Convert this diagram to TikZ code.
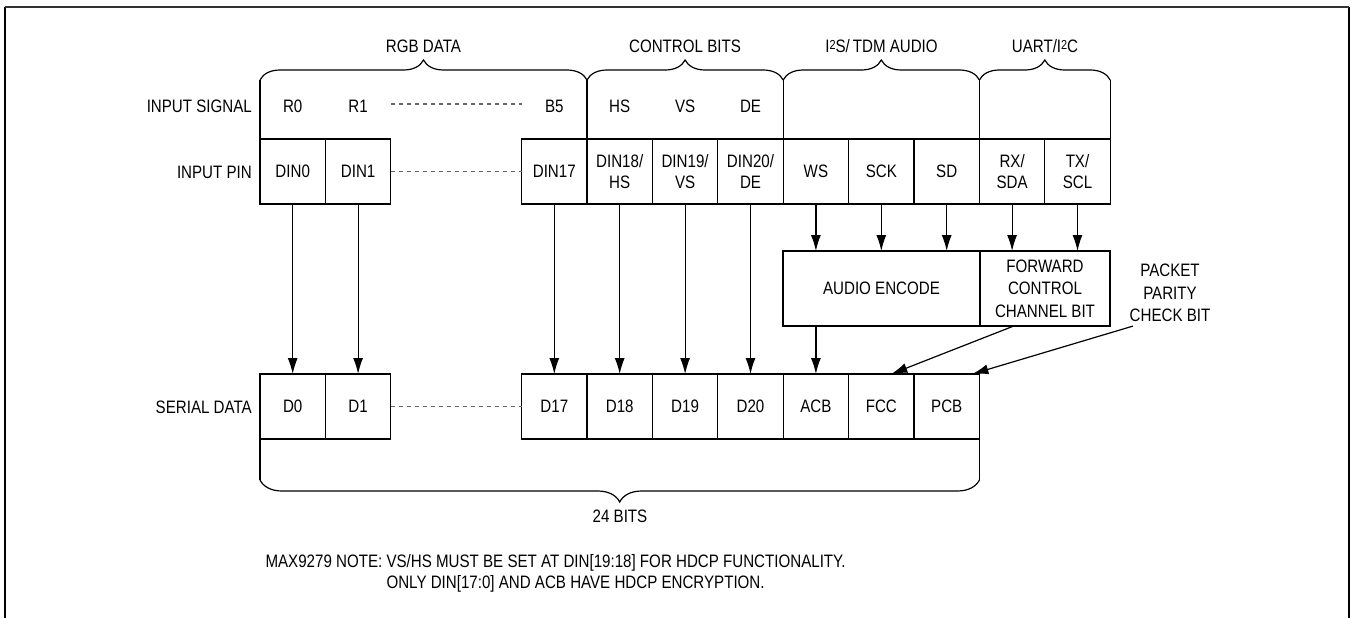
\documentclass[tikz,border=0pt]{standalone}
\usepackage{fontspec}
\setmainfont{Liberation Sans}[FakeStretch=0.84]
\usetikzlibrary{positioning,calc,arrows.meta,decorations.pathreplacing}

\tikzset{
  cell/.style={draw, line width=1.2pt, minimum width=65.4pt, minimum height=65pt,
    inner sep=0pt, outer sep=0pt, align=center},
  block/.style={draw, line width=1.2pt, minimum height=75pt, inner sep=0pt,
    outer sep=0pt, align=center, font=\fontsize{18}{22.5}\selectfont},
  rowname/.style={anchor=east, inner sep=0pt},
  flow/.style={-{Latex[length=16pt,width=10pt]}, line width=1.2pt},
  dots/.style={dash pattern=on 4.5pt off 3.5pt, black!60, line width=1.2pt},
  grpbrace/.style={decorate, decoration={brace, amplitude=#1}, line width=1.2pt},
  grpbrace/.default=20pt,
}
\newcommand{\sqtwo}{{\fontsize{13}{13}\selectfont\raisebox{2.5pt}{2}}}

\begin{document}
\begin{tikzpicture}[x=1pt, y=-1pt, font=\fontsize{18}{21}\selectfont]
    \useasboundingbox (0,0) rectangle (1352,618);
    % frame
    \draw [line width=2pt] (5,640) -- (5,7);
    \draw [line width=2pt] (1349,640) -- (1349,7);
    \draw [line width=1.5pt, black!80] (5,7) -- (1349,7);

    % row names
    \node [rowname] (insig) at (252,106) {INPUT SIGNAL};
    \node [rowname] (inpin) at (252,172) {INPUT PIN};
    \node [rowname] (serial) at (252,407) {SERIAL DATA};

    % input signals
    \foreach \i/\n/\t in {0/r0/R0, 1/r1/R1, 4/b5/B5, 5/hs/HS, 6/vs/VS, 7/de/DE}
        \node (\n) at ({292.7+65.4*\i},106) {\t};
    \draw [dots] ($(r1.east)+(19.5,-2)$) -- ($(b5.west)+(-19.5,-2)$);

    % input pins
    \foreach \i/\n/\t in {0/din0/DIN0, 1/din1/DIN1, 4/din17/DIN17, 5/din18/{DIN18/\\HS},
                          6/din19/{DIN19/\\VS}, 7/din20/{DIN20/\\DE}, 8/ws/WS, 9/sck/SCK,
                          10/sd/SD, 11/rx/{RX/\\SDA}, 12/tx/{TX/\\SCL}}
        \node [cell] (\n) at ({292.7+65.4*\i},171.5) {\t};
    \draw [dots] (din1.east) -- (din17.west);

    % group braces
    \draw [grpbrace] ($(din0.north west)+(0,-59)$) -- ($(din18.north west)+(0,-59)$);
    \draw [grpbrace] ($(din18.north west)+(0,-59)$) -- ($(ws.north west)+(0,-59)$);
    \draw [grpbrace] ($(ws.north west)+(0,-59)$) -- ($(rx.north west)+(0,-59)$);
    \draw [grpbrace] ($(rx.north west)+(0,-59)$) -- ($(tx.north east)+(0,-59)$);
    \foreach \n/\a in {din0/north west, din18/north west, ws/north west, rx/north west, tx/north east}
        \draw [line width=1.2pt] (\n.\a) -- ++(0,-59);
    \node (rgb) at (423.5,46) {RGB DATA};
    \node (ctrl) at (685,46) {CONTROL BITS};
    \node (i2s) at (881.5,46) {I\sqtwo S/\,TDM AUDIO};
    \node (uart) at (1045,46) {UART/I\sqtwo C};

    % encoders
    \node [block, minimum width=197pt] (audio) at (881.5,288.5) {AUDIO ENCODE};
    \node [block, minimum width=130pt] (fwd) at (1045,288.5) {FORWARD\\CONTROL\\CHANNEL BIT};
    \node [align=center, font=\fontsize{18}{22.5}\selectfont, inner sep=2pt] (pkt) at (1170,293)
        {PACKET\\PARITY\\CHECK BIT};

    % serial data
    \foreach \i/\n/\t in {0/d0/D0, 1/d1/D1, 4/d17/D17, 5/d18/D18, 6/d19/D19, 7/d20/D20,
                          8/acb/ACB, 9/fcc/FCC, 10/pcb/PCB}
        \node [cell] (\n) at ({292.7+65.4*\i},406.5) {\t};
    \draw [dots] (d1.east) -- (d17.west);

    % arrows
    \foreach \a/\b in {din0/d0, din1/d1, din17/d17, din18/d18, din19/d19, din20/d20}
        \draw [flow] (\a) -- (\b);
    \foreach \a in {ws, sck, sd}
        \draw [flow] (\a) -- (\a |- audio.north);
    \foreach \a in {rx, tx}
        \draw [flow] (\a) -- (\a |- fwd.north);
    \draw [flow] (audio.south -| acb) -- (acb);
    \draw [flow] ($(fwd.south west)!0.26!(fwd.south east)$) -- ($(fcc.north)+(10,0)$);
    \draw [flow] ($(pkt.south)+(-37,2)$) -- ($(pcb.north east)+(-7,0)$);

    % total
    \draw [line width=1.2pt] (d0.south west) -- ++(0,41);
    \draw [line width=1.2pt] (pcb.south east) -- ++(0,41);
    \draw [grpbrace=22pt] ($(pcb.south east)+(0,41)$) -- ($(d0.south west)+(0,41)$);
    \node (bits) at (620,516) {24 BITS};

    % note
    \node [anchor=west, align=left] (note) at (262,573.5)
        {MAX9279 NOTE: VS/HS MUST BE SET AT DIN[19:18] FOR HDCP FUNCTIONALITY.\\
         \hphantom{MAX9279 NOTE: }ONLY DIN[17:0] AND ACB HAVE HDCP ENCRYPTION.};
\end{tikzpicture}
\end{document}
